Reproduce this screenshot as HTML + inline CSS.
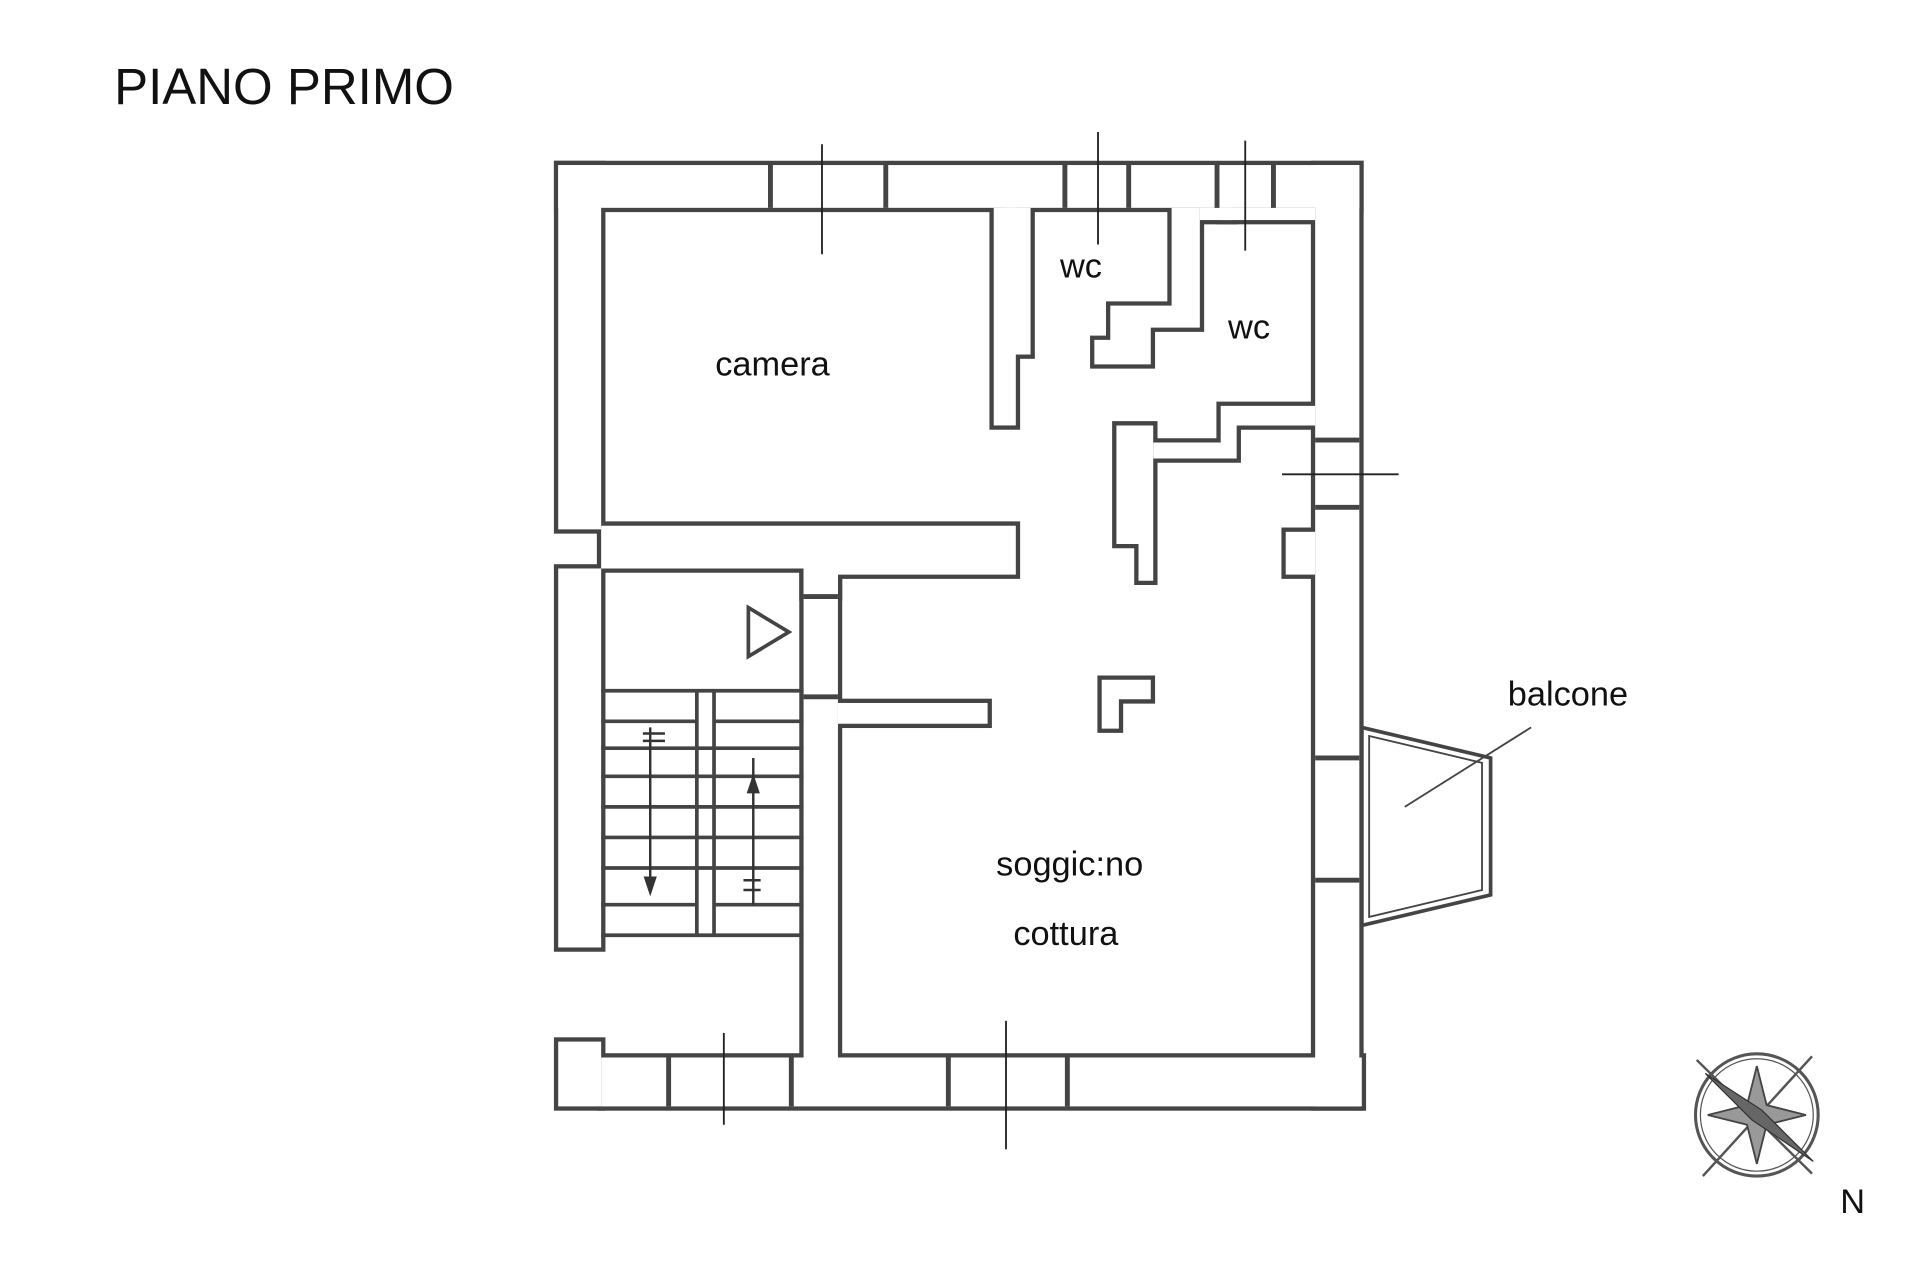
<!DOCTYPE html>
<html><head><meta charset="utf-8"><style>html,body{margin:0;padding:0;background:#fff}svg{display:block}</style></head>
<body>
<svg width="1920" height="1280" viewBox="0 0 1565 1047" preserveAspectRatio="none" xmlns="http://www.w3.org/2000/svg">
<rect width="1565" height="1047" fill="#fff"/>
<text x="93" y="85" font-family="Liberation Sans, sans-serif" font-size="42" fill="#111" textLength="277" lengthAdjust="spacingAndGlyphs">PIANO PRIMO</text>
<defs>
<g id="walls">
<rect x="455" y="135" width="653" height="35"/>
<rect x="455" y="135" width="35" height="298"/>
<rect x="455" y="465" width="35" height="310"/>
<polygon points="490,430 828,430 828,470 683,470 683,488 655,488 655,465 490,465"/>
<rect x="810" y="170" width="18" height="178"/>
<rect x="820" y="170" width="20" height="120"/>
<rect x="655" y="465" width="28" height="405"/>
<rect x="683" y="575" width="122" height="17"/>
<rect x="455" y="852" width="35" height="53"/>
<rect x="490" y="865" width="620" height="40"/>
<rect x="1072" y="135" width="36" height="770"/>
<rect x="1048" y="435" width="24" height="35"/>
<rect x="978" y="170" width="94" height="10"/>
<polygon points="955,170 978,170 978,268 938,268 938,298 892,298 892,278 905,278 905,250 955,250"/>
<rect x="995" y="170" width="10" height="10"/>
<polygon points="910,348 940,348 940,475 928,475 928,445 910,445"/>
<polygon points="940,362 995,362 995,332 1072,332 1072,348 1008,348 1008,375 940,375"/>
<polygon points="898,556 938,556 938,572 912,572 912,596 898,596"/>
</g>
</defs>
<g fill="#444" stroke="#444" stroke-width="7" stroke-linejoin="miter"><use href="#walls"/></g>
<g fill="#fff" stroke="none"><use href="#walls"/></g>
<g stroke="#444" stroke-width="4" fill="none">
<path d="M628 135V170M722 135V170M868 135V170M920 135V170M992 135V170M1038 135V170"/>
<path d="M1072 360H1108M1072 415H1108M1072 620H1108M1072 720H1108"/>
<path d="M545 865V905M645 865V905M773 865V905M870 865V905"/>
<path d="M655 488H683M655 570H683"/>
</g>
<g stroke="#222" stroke-width="1.5">
<path d="M670 118V208M895 108V200M1015 115V205M590 845V920M820 835V940M1045 388H1140"/>
</g>
<g stroke="#444" stroke-width="3" fill="none">
<path d="M490 565H655M490 612H655M490 635H655M490 660H655M490 685H655M490 710H655M490 740H568M582 740H655M490 765H655"/>
<path d="M568 565V765M582 565V765M490 590H568M582 590H655"/>
<polygon points="610,497 643,517 610,537"/>
</g>
<g stroke="#333" stroke-width="2" fill="#333">
<path d="M530 595V725M614 620V740M524 600H542M524 606H542M606 720H620M606 728H620" fill="none"/>
<polygon points="526,718 534,718 530,730"/>
<polygon points="610,648 618,648 614,636"/>
</g>
<g stroke="#444" stroke-width="3" fill="none">
<polygon points="1110,595 1215,620 1215,732 1110,757"/>
<polygon points="1116,602 1208,624 1208,728 1116,750" stroke-width="1.5"/>
<path d="M1145 660L1248 595" stroke-width="1.5"/>
</g>
<g font-family="Liberation Sans, sans-serif" font-size="28" fill="#111">
<text x="583" y="307">camera</text>
<text x="864" y="227">wc</text>
<text x="1001" y="277">wc</text>
<text x="812" y="716">soggic:no</text>
<text x="826" y="773">cottura</text>
<text x="1229" y="577">balcone</text>
<text x="1500" y="992">N</text>
</g>
<g stroke="#555" fill="none">
<circle cx="1432" cy="912" r="50" stroke-width="2.5"/>
<circle cx="1432" cy="912" r="46" stroke-width="1"/>
<path d="M1383 867L1477 960M1477 864L1388 962" stroke-width="2"/>
<polygon points="1432,872 1440,904 1472,912 1440,920 1432,952 1424,920 1392,912 1424,904" fill="#999" stroke="#444" stroke-width="1.5"/>
<polygon points="1390,878 1436,908 1478,950 1428,916" fill="#666" stroke="#333"/>
</g>
</svg>
</body></html>
